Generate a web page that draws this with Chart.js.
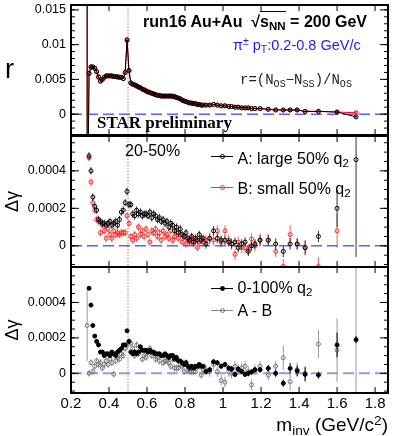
<!DOCTYPE html>
<html>
<head>
<meta charset="utf-8">
<script src="https://cdn.jsdelivr.net/npm/chart.js@4.4.1/dist/chart.umd.min.js"></script>
<style>
  html, body { margin: 0; padding: 0; background: #fff; }
  #wrap { position: relative; width: 399px; height: 436px; overflow: hidden; font-family: "Liberation Sans", Arial, sans-serif; }
  canvas { position: absolute; left: 0; }
  .t { position: absolute; white-space: nowrap; line-height: 1; color: #000; }
  .sb { font-size: 72%; position: relative; top: 0.32em; }
  .sp { font-size: 72%; position: relative; top: -0.45em; }
  .lg { position: absolute; width: 22px; height: 0; left: 211px; border-top: 1px solid #000; }
  .mk { position: absolute; left: 219.5px; width: 3px; height: 3px; border-radius: 50%; border: 1px solid #000; }
</style>
</head>
<body>
<div id="wrap">
  <canvas id="c1" width="399" height="140" style="top:0px"></canvas>
  <canvas id="c2" width="399" height="143" style="top:130px"></canvas>
  <canvas id="c3" width="399" height="175" style="top:261px"></canvas>

  <div class="t" style="left:5px; top:56px; font-size:27px;">r</div>
  <div class="t" style="left:143px; top:13.5px; font-size:16px; font-weight:bold;">run16 Au+Au&nbsp; √<span style="border-top:1.5px solid #000; padding-top:1px;">s<span class="sb">NN</span></span> = 200 GeV</div>
  <div class="t" style="left:233px; top:37.5px; font-size:14.5px; color:#1a1aff;">π<span class="sp">±</span> p<span class="sb">T</span>:0.2-0.8 GeV/c</div>
  <div class="t" style="left:240px; top:72.5px; font-size:14px; font-family:'Liberation Mono', monospace; color:#222;">r=(N<span class="sb">OS</span>−N<span class="sb">SS</span>)/N<span class="sb">OS</span></div>
  <div class="t" style="left:97px; top:114px; font-size:17px; font-weight:bold; font-family:'Liberation Serif', serif;">STAR preliminary</div>

  <div class="t" style="left:125px; top:142.5px; font-size:16px;">20-50%</div>
  <div class="lg" style="top:156px;"></div>
  <div class="mk" style="top:154px;"></div>
  <div class="t" style="left:237.5px; top:150.8px; font-size:16px;">A: large 50% q<span class="sb">2</span></div>
  <div class="lg" style="top:186.5px; border-color:#f33;"></div>
  <div class="mk" style="top:184.5px; border-color:#f33;"></div>
  <div class="t" style="left:237.5px; top:180.5px; font-size:16px;">B: small 50% q<span class="sb">2</span></div>

  <div class="lg" style="top:287.5px;"></div>
  <div class="mk" style="top:285.5px; background:#000;"></div>
  <div class="t" style="left:237.5px; top:279.8px; font-size:16px;">0-100% q<span class="sb">2</span></div>
  <div class="lg" style="top:310px; border-color:#888;"></div>
  <div class="mk" style="top:308px; border-color:#777;"></div>
  <div class="t" style="left:237.5px; top:302.5px; font-size:16px;">A - B</div>

  <div class="t" style="right:11px; top:415px; font-size:19px;">m<span class="sb">inv</span> (GeV/c<span class="sp">2</span>)</div>
</div>
<script>
const FAM = '"Liberation Sans", Arial, sans-serif';

// invariant mass bin centres (GeV/c^2)
const mInv = [
  0.285, 0.295, 0.305, 0.315, 0.325, 0.335, 0.345, 0.355, 0.365, 0.375,
  0.385, 0.395, 0.405, 0.415, 0.425, 0.435, 0.445, 0.455, 0.465, 0.475,
  0.485, 0.495, 0.505, 0.515, 0.525, 0.535, 0.545, 0.555, 0.565, 0.575,
  0.585, 0.595, 0.605, 0.615, 0.625, 0.635, 0.645, 0.655, 0.665, 0.675,
  0.685, 0.695, 0.705, 0.715, 0.725, 0.735, 0.745, 0.755, 0.765, 0.775,
  0.785, 0.795, 0.805, 0.815, 0.825, 0.835, 0.845, 0.855, 0.865, 0.875,
  0.885, 0.895,
  0.91, 0.93, 0.95, 0.97, 0.99, 1.01, 1.03, 1.045, 1.063, 1.08,
  1.098, 1.116, 1.133, 1.15, 1.168, 1.195, 1.238, 1.277, 1.317, 1.353,
  1.39, 1.432, 1.502, 1.60, 1.70
];

// top panel: r = (N_OS - N_SS) / N_OS
const rA = [
  -0.02, 0.0059, 0.0068, 0.0068, 0.0066, 0.0061, 0.0053, 0.0048, 0.0050, 0.0053,
  0.0055, 0.0055, 0.0055, 0.0055, 0.0054, 0.0054, 0.0054, 0.0053, 0.0053, 0.0051,
  0.0060, 0.0107, 0.0063, 0.0045, 0.0043, 0.0042, 0.0041, 0.0039, 0.0038, 0.0036,
  0.0035, 0.0033, 0.0032, 0.0031, 0.0030, 0.0029, 0.0028, 0.0027, 0.0027, 0.0026,
  0.0026, 0.0026, 0.0026, 0.0026, 0.0026, 0.0026, 0.0025, 0.0024, 0.0023, 0.0022,
  0.0020, 0.0019, 0.0018, 0.0017, 0.0016, 0.0016, 0.0015, 0.0015, 0.0014, 0.0014,
  0.0013, 0.0013,
  0.0013, 0.0013, 0.0014, 0.0013, 0.0012, 0.0012, 0.0011, 0.0011, 0.0010, 0.0010,
  0.0009, 0.0009, 0.0009, 0.0008, 0.0008, 0.0008, 0.0007, 0.0006, 0.0006, 0.0006,
  0.0006, 0.0004, 0.0004, 0.0003, -0.0004
];
const rB = [
  -0.02, 0.0058, 0.0068, 0.0067, 0.0066, 0.0061, 0.0054, 0.0047, 0.0050, 0.0053,
  0.0055, 0.0055, 0.0055, 0.0055, 0.0054, 0.0054, 0.0053, 0.0053, 0.0053, 0.0051,
  0.0060, 0.0106, 0.0062, 0.0045, 0.0043, 0.0042, 0.0040, 0.0039, 0.0038, 0.0036,
  0.0035, 0.0034, 0.0032, 0.0031, 0.0030, 0.0029, 0.0028, 0.0027, 0.0027, 0.0026,
  0.0026, 0.0026, 0.0026, 0.0026, 0.0026, 0.0025, 0.0025, 0.0024, 0.0023, 0.0022,
  0.0020, 0.0019, 0.0018, 0.0017, 0.0016, 0.0016, 0.0015, 0.0015, 0.0014, 0.0014,
  0.0013, 0.0013,
  0.0013, 0.0013, 0.0014, 0.0013, 0.0012, 0.0012, 0.0011, 0.0011, 0.0010, 0.0010,
  0.0009, 0.0009, 0.0009, 0.0008, 0.0008, 0.0008, 0.0007, 0.0006, 0.0006, 0.0006,
  0.0006, 0.0004, 0.0004, 0.0003, 0.0002
];
const rErrA = [
  0.04, 0.00005, 0.00005, 0.00005, 0.00005, 0.00005, 0.00005, 0.00005, 0.00005, 0.00005,
  0.00005, 0.00005, 0.00005, 0.00005, 0.00005, 0.00005, 0.00005, 0.00005, 0.00005, 0.00005,
  0.00005, 0.00005, 0.00005, 0.00005, 0.00005, 0.00005, 0.00005, 0.00005, 0.00005, 0.00005,
  0.00005, 0.00005, 0.00005, 0.00005, 0.00005, 0.00005, 0.00005, 0.00005, 0.00005, 0.00005,
  0.00005, 0.00005, 0.00005, 0.00005, 0.00005, 0.00005, 0.00005, 0.00005, 0.00005, 0.00005,
  0.00005, 0.00005, 0.00005, 0.00005, 0.00005, 0.00005, 0.00005, 0.00005, 0.00005, 0.00005,
  0.00005, 0.00005,
  0.00005, 0.00005, 0.00005, 0.00005, 0.00005, 0.00005, 0.00005, 0.00005, 0.00005, 0.00005,
  0.00005, 0.00005, 0.00005, 0.00005, 0.00005, 0.00006, 0.00006, 0.00006, 0.00007, 0.00007,
  0.00008, 0.00008, 0.0001, 0.00012, 0.00018
];
const rErrB = [
  0.04, 0.00005, 0.00005, 0.00005, 0.00005, 0.00005, 0.00005, 0.00005, 0.00005, 0.00005,
  0.00005, 0.00005, 0.00005, 0.00005, 0.00005, 0.00005, 0.00005, 0.00005, 0.00005, 0.00005,
  0.00005, 0.00005, 0.00005, 0.00005, 0.00005, 0.00005, 0.00005, 0.00005, 0.00005, 0.00005,
  0.00005, 0.00005, 0.00005, 0.00005, 0.00005, 0.00005, 0.00005, 0.00005, 0.00005, 0.00005,
  0.00005, 0.00005, 0.00005, 0.00005, 0.00005, 0.00005, 0.00005, 0.00005, 0.00005, 0.00005,
  0.00005, 0.00005, 0.00005, 0.00005, 0.00005, 0.00005, 0.00005, 0.00005, 0.00005, 0.00005,
  0.00005, 0.00005,
  0.00005, 0.00005, 0.00005, 0.00005, 0.00005, 0.00005, 0.00005, 0.00005, 0.00005, 0.00005,
  0.00005, 0.00005, 0.00005, 0.00005, 0.00005, 0.00006, 0.00006, 0.00006, 0.00007, 0.00007,
  0.00008, 0.00008, 0.0001, 0.00012, 0.00022
];

// middle panel: delta gamma, 20-50%, A = large 50% q2, B = small 50% q2
const dgA = [
  null, 0.00048, 0.00040, 0.00026, 0.00021, 0.00019, 0.00014, 0.00013, 0.00012, 0.00012,
  0.00011, 0.00012, 0.00013, 0.00011, 0.00012, 0.00013, 0.00011, 0.00014, 0.00018, 0.00019,
  0.00023, 0.00029, 0.00022, 0.00022, 0.00017, 0.00016, 0.00019, 0.00017, 0.00018, 0.00016,
  0.00017, 0.00017, 0.00016, 0.00018, 0.00015, 0.00017, 0.00016, 0.00014, 0.00015, 0.00013,
  0.00014, 0.00012, 0.00013, 0.00010, 0.00012, 0.00011, 0.00008, 0.00010, 0.00007, 0.00009,
  0.00006, 0.00005, 0.00007, 0.00004, 0.00003, 0.00005, 0.00002, 0.00004, 0.00003, 0.00006,
  0.00003, 0.00004,
  0.00001, 0.00004, 0.00008, 0.00004, 0.00003, 0.00003, 0.00002, 0.00001, 0.00002, -0.00001,
  0.00001, 0.00002, -0.00003, 0.00000, 0.00001, 0.00003, 0.00003, 0.00001, -0.00003, 0.00001,
  0.00001, -0.00001, 0.00005, 0.00020, 0.00046
];
const dgB = [
  null, 0.00047, 0.00034, 0.00023, 0.00019, 0.00014, 0.00013, 0.00007, 0.00011, 0.00008,
  0.00004, 0.00009, 0.00006, 0.00004, 0.00008, 0.00006, 0.00007, 0.00006, 0.00007, 0.00007,
  0.00007, 0.00016, 0.00012, 0.00005, 0.00003, 0.00006, 0.00004, 0.00010, 0.00006, 0.00008,
  0.00005, 0.00009, 0.00006, 0.00002, 0.00008, 0.00007, 0.00009, 0.00005, 0.00007, 0.00003,
  0.00008, 0.00005, 0.00006, 0.00004, 0.00008, 0.00003, 0.00005, 0.00007, 0.00004, 0.00006,
  0.00002, 0.00005, 0.00001, 0.00003, 0.00002, 0.00004, 0.00001, 0.00003, -0.00001, 0.00002,
  0.00004, 0.00002,
  0.00003, 0.00004, 0.00003, 0.00008, 0.00002, 0.00008, 0.00003, 0.00001, -0.000045, 0.00002,
  -0.00001, -0.00001, -0.00002, 0.000036, 0.00000, 0.00003, 0.00003, -0.00003, -0.00011, 0.00006,
  0.00001, -0.00001, -0.00011, 0.00008, null
];
const dgErrA = [
  null, 0.00002, 0.00002, 0.00002, 0.00002, 0.00002, 0.00002, 0.00002, 0.00002, 0.00002,
  0.00002, 0.00002, 0.00002, 0.00002, 0.00002, 0.00002, 0.00002, 0.00002, 0.00002, 0.00002,
  0.00002, 0.00002, 0.00002, 0.00002, 0.00002, 0.00002, 0.00002, 0.00002, 0.00002, 0.00002,
  0.00002, 0.00002, 0.00002, 0.00002, 0.00002, 0.00002, 0.00002, 0.00002, 0.00002, 0.00002,
  0.00002, 0.00002, 0.00002, 0.00002, 0.00002, 0.00002, 0.00002, 0.00002, 0.00002, 0.00002,
  0.00002, 0.00002, 0.00002, 0.00002, 0.00002, 0.00002, 0.00002, 0.00002, 0.00002, 0.00002,
  0.00002, 0.00002,
  0.000025, 0.000025, 0.000025, 0.000025, 0.000025, 0.000025, 0.000025, 0.000025, 0.000025, 0.000025,
  0.000025, 0.000025, 0.000025, 0.000025, 0.000025, 0.00003, 0.00003, 0.00003, 0.00003, 0.00003,
  0.00003, 0.00004, 0.00003, 0.0001, 0.00052
];
const dgErrB = [
  null, 0.00002, 0.00002, 0.00002, 0.00002, 0.00002, 0.00002, 0.00002, 0.00002, 0.00002,
  0.00002, 0.00002, 0.00002, 0.00002, 0.00002, 0.00002, 0.00002, 0.00002, 0.00002, 0.00002,
  0.00002, 0.00002, 0.00002, 0.00002, 0.00002, 0.00002, 0.00002, 0.00002, 0.00002, 0.00002,
  0.00002, 0.00002, 0.00002, 0.00002, 0.00002, 0.00002, 0.00002, 0.00002, 0.00002, 0.00002,
  0.00002, 0.00002, 0.00002, 0.00002, 0.00002, 0.00002, 0.00002, 0.00002, 0.00002, 0.00002,
  0.00002, 0.00002, 0.00002, 0.00002, 0.00002, 0.00002, 0.00002, 0.00002, 0.00002, 0.00002,
  0.00002, 0.00002,
  0.00003, 0.00003, 0.00003, 0.00003, 0.00003, 0.00003, 0.00003, 0.00003, 0.00003, 0.00003,
  0.00003, 0.00003, 0.00003, 0.00003, 0.00003, 0.00003, 0.00003, 0.00003, 0.00004, 0.00005,
  0.00003, 0.00003, 0.00005, 0.00009, null
];

// bottom panel: delta gamma, 0-100% q2 and A - B
const dgAll = [
  null, 0.00048, 0.000385, 0.00027, 0.00021, 0.00018, 0.00016, 0.00012, 0.00012, 0.00010,
  0.00011, 0.00011, 0.00010, 0.00012, 0.00011, 0.00010, 0.00012, 0.00013, 0.00014, 0.00016,
  0.00016, 0.00024, 0.00018, 0.00012, 0.00011, 0.00012, 0.00011, 0.00012, 0.00015, 0.00013,
  0.00013, 0.00013, 0.00012, 0.00013, 0.00012, 0.00012, 0.00011, 0.00011, 0.00011, 0.00010,
  0.00010, 0.00011, 0.00010, 0.00009, 0.00010, 0.00010, 0.00008, 0.00009, 0.00007, 0.00007,
  0.00006, 0.00005, 0.00006, 0.00004, 0.00003, 0.00004, 0.00003, 0.00004, 0.00004, 0.00005,
  0.00004, 0.00004,
  0.00001, 0.00002, 0.000065, 0.00006, 0.00004, 0.00005, 0.00003, 0.000025, -0.000006, 0.000024,
  0.00001, -0.000006, 0.0, 0.000008, 0.00002, 0.00002, 0.000028, 0.0, -0.000056, 0.000028,
  0.000014, -0.000006, -0.00001, 0.00016, 0.00019
];
const dgDiff = [
  0.00027, 0.0, 0.00006, 0.00001, 0.00004, 0.00007, 0.00005, 0.00006, 0.00003, 0.00005,
  0.00007, 0.00005, 0.00008, 0.00006, -0.000005, 0.00007, 0.00009, 0.00008, 0.00011, 0.00010,
  0.00014, 0.00016, 0.00018, 0.00017, 0.00014, 0.00010, 0.00016, 0.00011, 0.00013, 0.00008,
  0.00010, 0.00009, 0.00012, 0.00014, 0.00010, 0.00011, 0.00008, 0.00009, 0.00007, 0.00010,
  0.00006, 0.00007, 0.00007, 0.00006, 0.00004, 0.00008, 0.00003, 0.00003, 0.00003, 0.00005,
  0.00004, 0.00001, 0.00006, 0.00002, 0.00001, 0.00001, 0.00001, 0.00001, 0.00004, 0.00004,
  -0.00001, 0.00002,
  0.00002, 0.00001, 0.00005, 0.00001, -0.00004, -0.00005, 0.00001, 0.0, 0.00004, 0.00002,
  0.00003, 0.00004, 0.00001, -0.000065, 0.00002, 0.00004, -0.00001, 0.00004, 0.000088, -0.000047,
  0.00002, 0.0, 0.000165, 0.00013, 0.0008
];
const dgErrAll = [
  null, 0.00001, 0.00001, 0.00001, 0.00001, 0.00001, 0.00001, 0.00001, 0.00001, 0.00001,
  0.00001, 0.00001, 0.00001, 0.00001, 0.00001, 0.00001, 0.00001, 0.00001, 0.00001, 0.00001,
  0.00001, 0.00001, 0.00001, 0.00001, 0.00001, 0.00001, 0.00001, 0.00001, 0.00001, 0.00001,
  0.00001, 0.00001, 0.00001, 0.00001, 0.00001, 0.00001, 0.00001, 0.00001, 0.00001, 0.00001,
  0.00001, 0.00001, 0.00001, 0.00001, 0.00001, 0.00001, 0.00001, 0.00001, 0.00001, 0.00001,
  0.00001, 0.00001, 0.00001, 0.00001, 0.00001, 0.00001, 0.00001, 0.00001, 0.00001, 0.00001,
  0.00001, 0.00001,
  0.000015, 0.000015, 0.000015, 0.000015, 0.000015, 0.000015, 0.000015, 0.000015, 0.000015, 0.000015,
  0.000015, 0.000015, 0.000015, 0.000015, 0.000015, 0.000015, 0.00002, 0.00002, 0.00002, 0.00003,
  0.00003, 0.00004, 0.00002, 0.00007, 0.00002
];
const dgErrDiff = [
  0.0002, 0.00002, 0.00002, 0.00002, 0.00002, 0.00002, 0.00002, 0.00002, 0.00002, 0.00002,
  0.00002, 0.00002, 0.00002, 0.00002, 0.00002, 0.00002, 0.00002, 0.00002, 0.00002, 0.00002,
  0.00002, 0.00002, 0.00002, 0.00002, 0.00002, 0.00002, 0.00002, 0.00002, 0.00002, 0.00002,
  0.00002, 0.00002, 0.00002, 0.00002, 0.00002, 0.00002, 0.00002, 0.00002, 0.00002, 0.00002,
  0.00002, 0.00002, 0.00002, 0.00002, 0.00002, 0.00002, 0.00002, 0.00002, 0.00002, 0.00002,
  0.00002, 0.00002, 0.00002, 0.00002, 0.00002, 0.00002, 0.00002, 0.00002, 0.00002, 0.00002,
  0.00002, 0.00002,
  0.00003, 0.00003, 0.00003, 0.00003, 0.00003, 0.00003, 0.00003, 0.00003, 0.00003, 0.00003,
  0.00003, 0.00003, 0.00003, 0.00003, 0.00003, 0.00003, 0.00003, 0.00003, 0.00007, 0.00005,
  0.00004, 0.00004, 0.00008, 0.00018, 0.001
];

// axes
const xTicks = [0.2, 0.4, 0.6, 0.8, 1.0, 1.2, 1.4, 1.6, 1.8];
const xTickLabels = ['0.2', '0.4', '0.6', '0.8', '1', '1.2', '1.4', '1.6', '1.8'];
const rTicks = [0, 0.005, 0.01, 0.015];
const rTickLabels = ['0', '0.005', '0.01', '0.015'];
const dgTicks = [0, 0.0002, 0.0004];
const dgTickLabels = ['0', '0.0002', '0.0004'];

const pts = ys => mInv.map((x, i) => ({ x, y: ys[i] }));

// vertical error bars through the chart's own scales
const errorBars = {
  id: 'errorBars',
  beforeDatasetDraw(chart, args) {
    const ds = chart.data.datasets[args.index];
    if (!ds.errs) return;
    const { ctx, chartArea: a, scales: { x, y } } = chart;
    ctx.save();
    ctx.beginPath();
    ctx.rect(a.left, a.top, a.width, a.height);
    ctx.clip();
    ctx.strokeStyle = ds.errColor;
    ctx.lineWidth = 1;
    ctx.beginPath();
    mInv.forEach((m, i) => {
      const v = ds.vals[i], e = ds.errs[i];
      if (v == null || !e) return;
      const px = x.getPixelForValue(m);
      ctx.moveTo(px, y.getPixelForValue(v - e));
      ctx.lineTo(px, y.getPixelForValue(v + e));
    });
    ctx.stroke();
    ctx.restore();
  }
};

// ROOT-style frame with inward ticks
const frame = {
  id: 'frame',
  afterDraw(chart, args, opts) {
    const { ctx, chartArea: a, scales: { x, y } } = chart;
    ctx.save();
    ctx.strokeStyle = '#000';
    ctx.lineWidth = 1;
    ctx.beginPath();
    for (let v = opts.minorStart; v <= y.max; v += opts.minor) {
      const py = y.getPixelForValue(v);
      if (py < a.top || py > a.bottom) continue;
      ctx.moveTo(a.left, py); ctx.lineTo(a.left + 4, py);
      ctx.moveTo(a.right, py); ctx.lineTo(a.right - 4, py);
    }
    opts.major.forEach(v => {
      const py = y.getPixelForValue(v);
      ctx.moveTo(a.left, py); ctx.lineTo(a.left + 8, py);
      ctx.moveTo(a.right, py); ctx.lineTo(a.right - 8, py);
    });
    xTicks.forEach(v => {
      const px = x.getPixelForValue(v);
      ctx.moveTo(px, a.bottom); ctx.lineTo(px, a.bottom - 6);
      ctx.moveTo(px, a.top); ctx.lineTo(px, a.top + 6);
    });
    ctx.stroke();
    ctx.lineWidth = 2;
    ctx.strokeRect(a.left, a.top, a.width, a.height);
    ctx.restore();
  }
};

function refLines(yMin, yMax, zeroColor, zeroWidth) {
  return [
    { data: [{ x: 0.5, y: yMin }, { x: 0.5, y: yMax }], borderColor: '#555', borderWidth: 1,
      borderDash: [1, 2], pointRadius: 0, showLine: true },
    { data: [{ x: 0.2, y: 0 }, { x: 1.87, y: 0 }], borderColor: zeroColor, borderWidth: zeroWidth,
      borderDash: [11, 5], pointRadius: 0, showLine: true }
  ];
}

function series(vals, errs, color, errColor, fill, line) {
  return {
    data: pts(vals), vals, errs, errColor,
    showLine: line, borderColor: color, borderWidth: 1,
    pointRadius: 2, pointBorderWidth: 1, pointBorderColor: color,
    pointBackgroundColor: fill ? color : 'rgba(0,0,0,0)'
  };
}

function makePanel(id, cfg) {
  return new Chart(document.getElementById(id), {
    type: 'line',
    data: { datasets: cfg.datasets },
    options: {
      responsive: false,
      animation: false,
      devicePixelRatio: 1,
      layout: { padding: { left: 0, right: 11, top: cfg.padTop, bottom: cfg.padBottom } },
      plugins: {
        legend: { display: false },
        tooltip: { enabled: false },
        frame: { major: cfg.ticks, minor: cfg.minor, minorStart: cfg.minorStart }
      },
      scales: {
        x: {
          type: 'linear', min: 0.2, max: 1.868,
          grid: { display: false, drawTicks: false },
          border: { display: false },
          afterBuildTicks: s => { s.ticks = xTicks.map(v => ({ value: v })); },
          ticks: {
            display: cfg.showX, autoSkip: false, maxRotation: 0, padding: 2, color: '#000',
            font: { family: FAM, size: 15 },
            callback: (v, i) => xTickLabels[i]
          },
          afterFit: s => { s.height = cfg.xHeight; s.paddingLeft = 0; s.paddingRight = 0; }
        },
        y: {
          type: 'linear', min: cfg.yMin, max: cfg.yMax,
          grid: { display: false, drawTicks: false },
          border: { display: false },
          afterBuildTicks: s => { s.ticks = cfg.ticks.map(v => ({ value: v })); },
          ticks: {
            padding: 5, color: '#000', font: { family: FAM, size: 12.5 },
            callback: (v, i) => cfg.tickLabels[i]
          },
          title: {
            display: !!cfg.title, text: cfg.title, color: '#000',
            font: { family: FAM, size: 18 }, padding: { top: 2, bottom: 0 }
          },
          afterFit: s => { s.width = 71; s.paddingTop = 0; s.paddingBottom = 0; }
        }
      }
    },
    plugins: [errorBars, frame]
  });
}

makePanel('c1', {
  yMin: -0.003, yMax: 0.0157, ticks: rTicks, tickLabels: rTickLabels,
  minor: 0.001, minorStart: -0.003, title: '',
  padTop: 5, padBottom: 5, xHeight: 0, showX: false,
  datasets: [
    series(rA, rErrA, '#000', '#000', false, true),
    series(rB, rErrB, '#f00', '#f00', false, true),
    ...refLines(-0.01, 0.02, 'rgb(95,95,255)', 1.5)
  ]
});

makePanel('c2', {
  yMin: -0.000113, yMax: 0.000586, ticks: dgTicks, tickLabels: dgTickLabels,
  minor: 0.00005, minorStart: -0.0001, title: 'Δγ',
  padTop: 6, padBottom: 6, xHeight: 0, showX: false,
  datasets: [
    series(dgA, dgErrA, '#000', '#333', false, false),
    series(dgB, dgErrB, '#f22', 'rgba(255,40,40,0.75)', false, false),
    ...refLines(-0.001, 0.001, 'rgb(95,95,255)', 1.5)
  ]
});

makePanel('c3', {
  yMin: -0.000111, yMax: 0.0006, ticks: dgTicks, tickLabels: dgTickLabels,
  minor: 0.00005, minorStart: -0.0001, title: 'Δγ',
  padTop: 6, padBottom: 0, xHeight: 43, showX: true,
  datasets: [
    series(dgAll, dgErrAll, '#000', '#000', true, false),
    series(dgDiff, dgErrDiff, '#777', '#999', false, false),
    ...refLines(-0.001, 0.001, 'rgb(150,150,245)', 2)
  ]
});
</script>
</body>
</html>
